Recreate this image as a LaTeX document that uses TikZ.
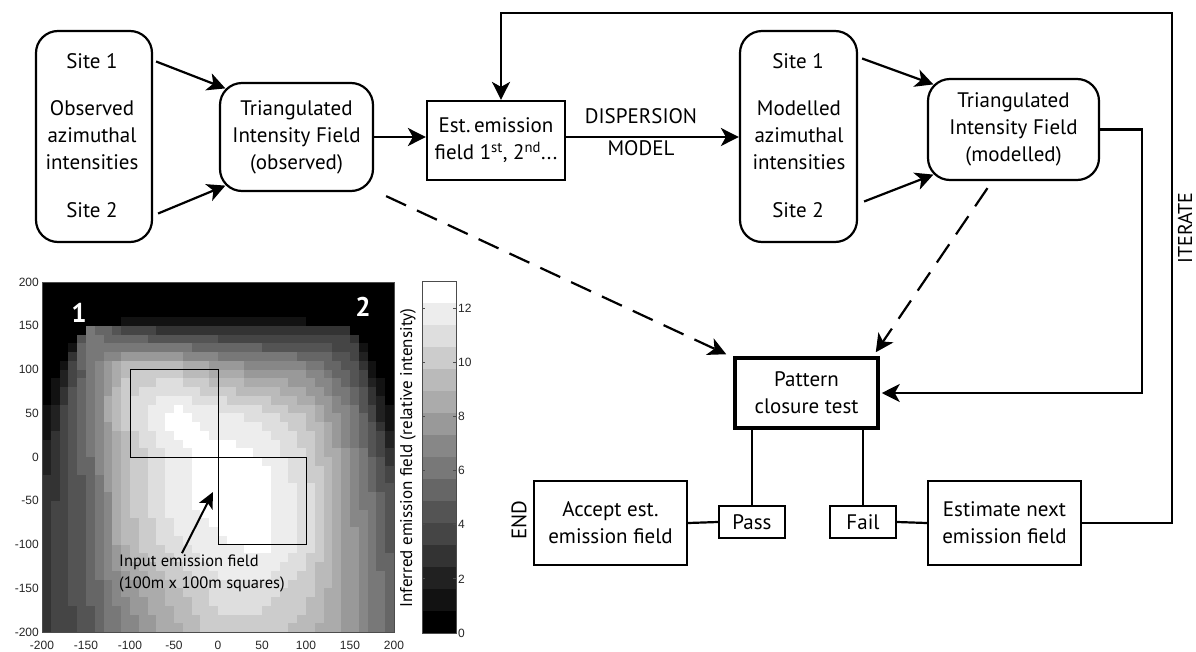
\documentclass[tikz,border=0pt]{standalone}
\usepackage{fontspec}
\setmainfont{PT Sans}
\newfontfamily\axfont{Liberation Sans}
\usetikzlibrary{arrows.meta,calc}
\newcommand\hmrow[2]{\foreach \vv [count=\k from 0] in {#2}{\expandafter\xdef\csname hm-#1-\k\endcsname{\vv}}}
\tikzset{
 txt/.style={font=\fontsize{21}{27}\selectfont, inner sep=0pt},
 box/.style={draw, line width=2.2pt, font=\fontsize{21}{27}\selectfont, align=center, inner sep=2pt},
 rbox/.style={box, rounded corners=22pt},
 sbox/.style={box},
 conn/.style={line width=2.2pt},
 arr/.style={conn, -{Stealth[length=18pt,width=18pt,inset=5pt]}},
 dasharr/.style={arr, dash pattern=on 22pt off 12pt},
 axlab/.style={font=\axfont\fontsize{12}{12}\selectfont, text=black!85, inner sep=0pt},
}
\begin{document}
\hmrow{0}{0.2,0.33,0.53,0.67,0.8,0.8,0.73,0.6,0.4}
\hmrow{1}{0.2,0.35,0.6,0.75,0.88,0.87,0.8,0.6,0.38}
\hmrow{2}{0.2,0.38,0.75,0.88,0.95,1.0,0.87,0.6,0.33}
\hmrow{3}{0.17,0.38,0.75,0.95,1.0,1.0,0.87,0.58,0.3}
\hmrow{4}{0.13,0.4,0.75,0.95,1.0,0.97,0.85,0.55,0.2}
\hmrow{5}{0.04,0.45,0.85,1.0,0.93,0.87,0.75,0.5,0.05}
\hmrow{6}{0,0.4,0.8,0.78,0.65,0.58,0.55,0.35,0}
\hmrow{7}{0,0.5,0.2,0.15,0.15,0.15,0.15,0.2,0}
\hmrow{8}{0,0,0,0,0,0,0,0,0}
\begin{tikzpicture}[x=1pt,y=-1pt]
\fill[white] (0,0) rectangle (1196,651);
\useasboundingbox (0,0) rectangle (1196,651);

% ---------- heat map ----------
\foreach \i in {0,...,39}{
  \foreach \j in {0,...,39}{
    \pgfmathsetmacro\xc{-195+10*\i}
    \pgfmathsetmacro\yc{-195+10*\j}
    \pgfmathtruncatemacro\ci{min(floor((\xc+200)/50),7)}
    \pgfmathtruncatemacro\rj{min(floor((\yc+200)/50),7)}
    \pgfmathsetmacro\fu{(\xc+200)/50-\ci}
    \pgfmathsetmacro\fv{(\yc+200)/50-\rj}
    \pgfmathtruncatemacro\cn{\ci+1}
    \pgfmathtruncatemacro\rn{\rj+1}
    \edef\va{\csname hm-\rj-\ci\endcsname}
    \edef\vb{\csname hm-\rj-\cn\endcsname}
    \edef\vc{\csname hm-\rn-\ci\endcsname}
    \edef\vd{\csname hm-\rn-\cn\endcsname}
    \pgfmathsetmacro\val{(1-\fv)*((1-\fu)*\va+\fu*\vb)+\fv*((1-\fu)*\vc+\fu*\vd)}
    \pgfmathsetmacro\ta{atan2(\yc-150,\xc+150)}
    \pgfmathsetmacro\tb{atan2(\yc-150,\xc-150)}
    \pgfmathsetmacro\fa{(\ta)>90 ? 0 : ((\ta)>0 ? max(0,1-(\ta)/8) : ((\ta)>-105 ? 1 : max(0,((\ta)+125)/20)))}
    \pgfmathsetmacro\fb{(\tb)>89.9 ? max(0,1-(180-(\tb))/8) : ((\tb)>0 ? 0 : ((\tb)>-75 ? max(0,(-(\tb)-55)/20) : 1))}
    \pgfmathtruncatemacro\q{round(\val*\fa*\fb*15)}
    \pgfmathtruncatemacro\pp{100-round(\q*100/15)}
    \fill[black!\pp] ({42+8.8*\i},{632-8.75*\j}) rectangle ++(9.1,-9.05);
  }}
\draw[black!70, line width=0.8pt] (42,282) rectangle (394,632);
\foreach \v in {200,150,...,-200}{
  \node[axlab, anchor=east] (yl\v) at (39,{457-0.875*\v}) {\v};
  \node[axlab] (xl\v) at ({218+0.88*\v},645) {\v};
}
\draw[line width=1pt] (130,369.5) rectangle (218,457);
\draw[line width=1pt] (218,457) rectangle (306,544.5);
\node[font=\bfseries\fontsize{27}{27}\selectfont, text=white, inner sep=0pt] (lab1) at (79,313) {1};
\node[font=\bfseries\fontsize{27}{27}\selectfont, text=white, inner sep=0pt] (lab2) at (363,307) {2};
\node[font=\fontsize{16.5}{22}\selectfont, align=left, anchor=west, inner sep=0pt] (inp) at (119,573) {Input emission field\\(100m x 100m squares)};
\coordinate (inptip) at (213,492);
\draw[line width=2pt, -{Stealth[length=16pt,width=15pt,inset=4pt]}] ([shift={(63,-1)}]inp.north west) -- (inptip);

% colour bar
\foreach \k in {0,...,15}{
  \pgfmathtruncatemacro\pp{100-round(\k*100/15)}
  \fill[black!\pp] (422,{633-22*\k}) rectangle (456,{633-22*(\k+1)});
}
\draw[black!70, line width=0.8pt] (422,281) rectangle (456,633);
\foreach \v in {0,2,...,12}{
  \draw[black!70, line width=0.8pt] (422,{633-\v*352/13}) -- ++(3,0);
  \draw[black!70, line width=0.8pt] (456,{633-\v*352/13}) -- ++(-3,0);
  \node[axlab, anchor=west] (cb\v) at (458,{633-\v*352/13}) {\v};
}
\node[font=\fontsize{17}{17}\selectfont, rotate=90, inner sep=0pt] (cblab) at (408,458) {Inferred emission field (relative intensity)};

% ---------- flow chart ----------
\node[rbox, minimum width=116, minimum height=211] (obs) at (94,136.5) {};
\node[txt] (obs1) at (92,61) {Site 1};
\node[txt, align=center] (obsm) at (92,135) {Observed\\azimuthal\\intensities};
\node[txt] (obs2) at (92,210) {Site 2};

\node[rbox, minimum width=153, minimum height=108] (tri1) at (296.5,137) {Triangulated\\Intensity Field\\(observed)};
\node[sbox, minimum width=138, minimum height=79] (est) at (496,140.5) {Est.\,emission\\field 1\textsuperscript{st}, 2\textsuperscript{nd}...};
\node[txt] (disp) at (641,116) {DISPERSION};
\node[txt] (model) at (641,148) {MODEL};

\node[rbox, minimum width=117, minimum height=211] (mod) at (798.5,136.5) {};
\node[txt] (mod1) at (798,61) {Site 1};
\node[txt, align=center] (modm) at (799,135) {Modelled\\azimuthal\\intensities};
\node[txt] (mod2) at (798,210) {Site 2};

\node[rbox, minimum width=171, minimum height=101] (tri2) at (1013.5,129.5) {Triangulated\\Intensity Field\\(modelled)};

\node[sbox, line width=3.5pt, minimum width=143, minimum height=70] (pat) at (806.5,393) {Pattern\\closure test};
\node[sbox, minimum width=153, minimum height=84] (acc) at (610.5,523) {Accept est.\\emission field};
\node[sbox, minimum width=66, minimum height=32] (pass) at (752,522) {Pass};
\node[sbox, minimum width=66, minimum height=32] (fail) at (863,522) {Fail};
\node[sbox, minimum width=153, minimum height=84] (estn) at (1004.5,523) {Estimate next\\emission field};
\node[txt, rotate=90] (endl) at (519,520) {END};
\node[txt, rotate=90, font=\fontsize{20}{24}\selectfont] (iter) at (1185,228) {ITERATE};

\draw[arr] ([shift={(3,-75)}]obs.east) -- ([shift={(6.5,6.5)}]tri1.north west);
\draw[arr] ([shift={(5,77)}]obs.east) -- ([shift={(6.5,-6.5)}]tri1.south west);
\draw[arr] (tri1.east) -- (tri1.east -| est.west);
\draw[arr] (est.east |- tri1.east) -- (mod.west |- tri1.east);
\draw[arr] ([shift={(4,-78)}]mod.east) -- ([shift={(6.5,6.5)}]tri2.north west);
\draw[arr] ([shift={(6,65)}]mod.east) -- ([shift={(6.5,-6.5)}]tri2.south west);
\draw[arr] (tri2.east) -- ++(42,0) |- ([shift={(2,0)}]pat.east);
\draw[dasharr] ([shift={(12,4)}]tri1.south east) -- ([shift={(-7,-2)}]pat.north west);
\draw[dasharr] ([shift={(-26,7)}]tri2.south) -- ([shift={(-4,-4)}]pat.north east);
\coordinate (ltr) at (1172,13);
\coordinate (ltl) at (501,13);
\draw[arr] (estn.east) -| (ltr) -- (ltl) -- (ltl |- est.north);
\draw[conn] (pass.north |- pat.south) -- (pass.north);
\draw[conn] (fail.north |- pat.south) -- (fail.north);
\draw[conn] (acc.east) -- (pass.west);
\draw[conn] (fail.east) -- (estn.west);
\end{tikzpicture}
\end{document}
